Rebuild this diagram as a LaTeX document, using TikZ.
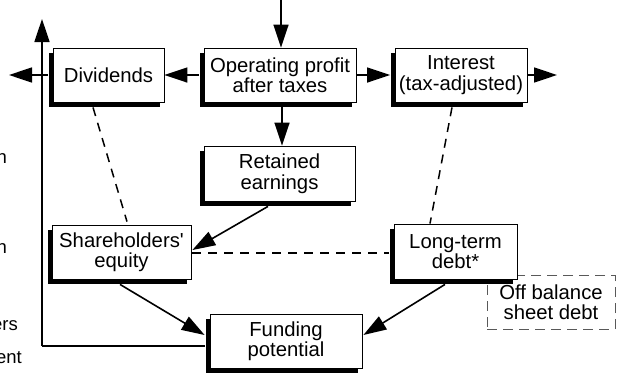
\documentclass[tikz,border=0pt]{standalone}
\usepackage{fontspec}
\setmainfont{Liberation Sans}
\usetikzlibrary{arrows.meta,shadows,calc}
\begin{document}
\begin{tikzpicture}[x=1pt,y=-1pt,
  box/.style={draw=black, line width=0.8pt, fill=white, align=center, inner sep=0pt,
    minimum height=54pt, font=\fontsize{20.3}{20.5}\selectfont,
    drop shadow={shadow xshift=-4.5pt, shadow yshift=-5pt, fill=black, opacity=1}},
  flow/.style={line width=1.6pt, -{Triangle[length=23pt,width=15pt]}},
  link/.style={line width=1.5pt, dash pattern=on 9pt off 7pt},
  plainline/.style={line width=1.6pt},
  offbox/.style={draw=black!65, dash pattern=on 10pt off 6pt, line width=1pt, align=center,
    inner sep=0pt, minimum width=128pt, minimum height=54pt, font=\fontsize{20.3}{20.5}\selectfont},
  frag/.style={font=\fontsize{18.5}{20}\selectfont, anchor=base east, inner sep=0pt}]
\useasboundingbox (0,0) rectangle (619,373);

% cut-off fragments at the left edge
\node[frag] (f1) at (7,163) {n};
\node[frag] (f2) at (7,253) {n};
\node[frag] (f3) at (18,330) {ers};
\node[frag] (f4) at (22,363) {ent};

% off-balance box (behind the long-term debt box)
\node[offbox] (obs) at (551,302) {Off balance\\sheet debt};

% boxes
\node[box, minimum width=111pt] (div) at (108.5,75) {Dividends};
\node[box, minimum width=152pt] (op) at (280,75) {Operating profit\\after taxes};
\node[box, minimum width=132pt] (int) at (461,75) {Interest\\(tax-adjusted)};
\node[box, minimum width=151pt, minimum height=55pt] (ret) at (279.5,173.5) {Retained\\earnings};
\node[box, minimum width=139pt] (sh) at (121.5,252) {Shareholders\textquotesingle\\equity};
\node[box, minimum width=123pt, minimum height=55pt] (lt) at (455.5,251.5) {Long-term\\debt*};
\node[box, minimum width=152pt] (fund) at (286,341) {Funding\\potential};

% free ends
\coordinate (top) at (281,0);
\coordinate (leftend) at (9,75);
\coordinate (rightend) at (557,75);
\coordinate (upend) at (42,19);
\coordinate (corner) at (42,346);

% solid flows
\draw[flow] (top) -- (op.north -| top);
\draw[flow] ($(op.west)+(-4.5,0)$) -- (div.east);
\draw[flow] (op.east) -- ($(int.west)+(-4.5,0)$);
\draw[flow] (int.east) -- (rightend);
\draw[flow] ($(div.west)+(-4.5,0)$) -- (leftend);
\draw[flow] ($(op.south)+(2,5)$) -- ($(ret.north)+(2.5,0)$);
\draw[flow] ($(ret.south)+(-11.5,5)$) -- ($(sh.east)+(1,-2)$);
\draw[flow] ($(sh.south)+(-1.5,5)$) -- ($(fund.west)+(-5,-6)$);
\draw[flow] ($(lt.south)+(-10.5,5)$) -- ($(fund.east)+(1,-6)$);
\draw[plainline] ($(fund.west)+(-4.5,5)$) -- (corner);
\draw[flow] (corner) -- (upend);

% dashed links
\draw[link] ($(div.south)+(-15.5,5)$) -- ($(sh.north)+(5.5,-3)$);
\draw[link] ($(int.south)+(-9,5)$) -- ($(lt.north)+(-25.5,0)$);
\draw[link] ($(sh.east)+(1,1)$) -- ($(lt.west)+(-4.5,1.5)$);
\end{tikzpicture}
\end{document}
